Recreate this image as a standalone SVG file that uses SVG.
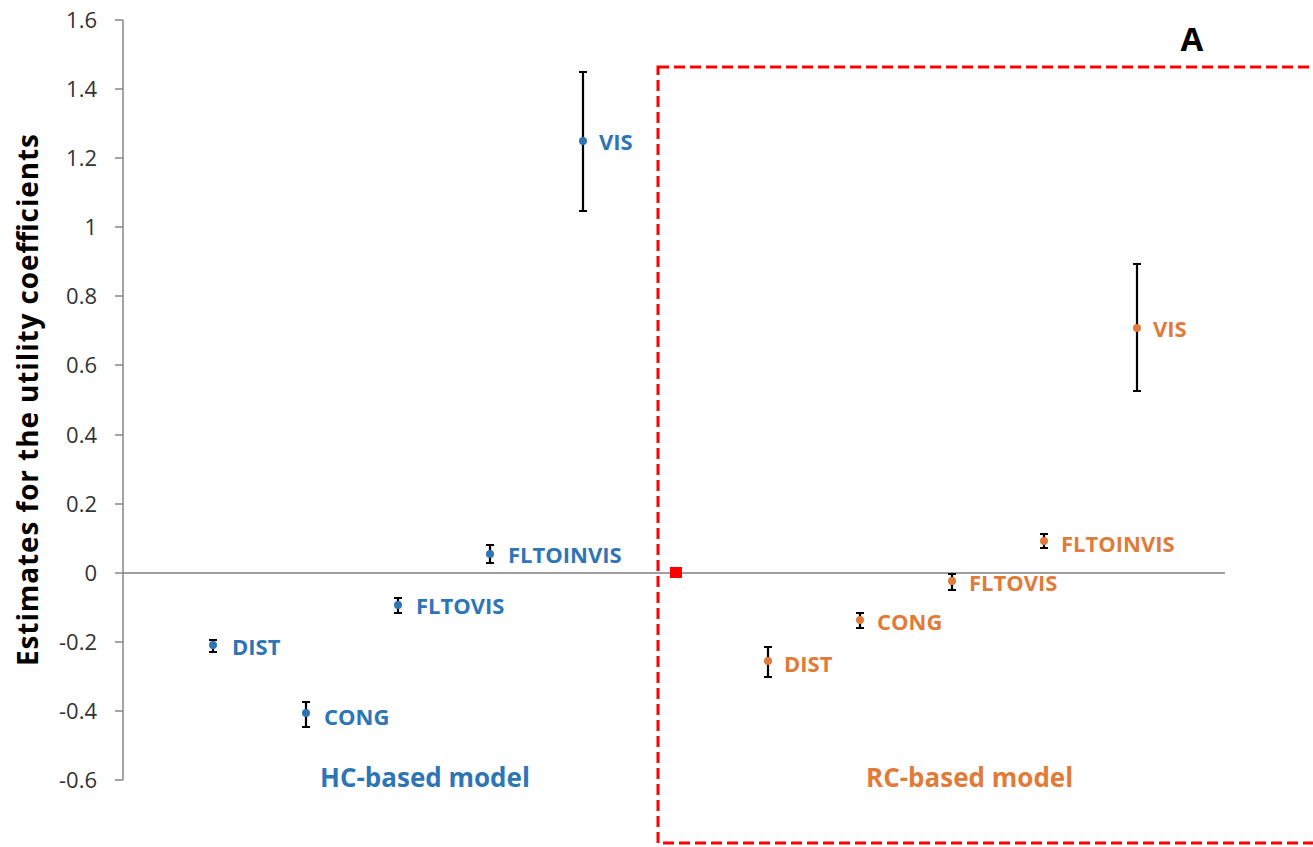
<svg xmlns="http://www.w3.org/2000/svg" width="1313" height="847" viewBox="0 0 1313 847">
<style>
.tick{font-family:"Open Sans","Liberation Sans",sans-serif;font-size:22px;fill:#333;text-anchor:end}
.lbl{font-family:"Open Sans","Liberation Sans",sans-serif;font-size:22px;font-weight:bold}
.model{font-family:"Open Sans","Liberation Sans",sans-serif;font-size:26px;font-weight:bold}
.hc{fill:#2E75B6}
.rc{fill:#E07B39}
.eb{stroke:#000;stroke-width:2.2;fill:none}
.axis{stroke:#868686;stroke-width:1.5;fill:none}
</style>
<rect width="1313" height="847" fill="#fff"/>
<g id="axis">
<path class="axis" d="M123 20V780M115 20H123M115 89H123M115 158H123M115 227H123M115 296H123M115 365H123M115 435H123M115 504H123M115 573H123M115 642H123M115 711H123M115 780H123"/>
<line x1="123" y1="573" x2="1225" y2="573" stroke="#7f7f7f" stroke-width="1.3"/>
<text class="tick" x="97" y="28">1.6</text>
<text class="tick" x="97" y="97">1.4</text>
<text class="tick" x="97" y="166">1.2</text>
<text class="tick" x="97" y="235">1</text>
<text class="tick" x="97" y="304">0.8</text>
<text class="tick" x="97" y="373">0.6</text>
<text class="tick" x="97" y="443">0.4</text>
<text class="tick" x="97" y="512">0.2</text>
<text class="tick" x="97" y="581">0</text>
<text class="tick" x="97" y="650">-0.2</text>
<text class="tick" x="97" y="719">-0.4</text>
<text class="tick" x="97" y="788">-0.6</text>
<text transform="translate(38,400) rotate(-90)" text-anchor="middle" font-family="Open Sans, Liberation Sans, sans-serif" font-size="28" font-weight="bold" fill="#000" textLength="532" lengthAdjust="spacing">Estimates for the utility coefficients</text>
</g>
<g id="box">
<rect x="658" y="67" width="700" height="776" fill="none" stroke="#FF0000" stroke-width="3" stroke-dasharray="11,5"/>
<rect x="670" y="567" width="12" height="11" fill="#FF0000"/>
<text x="1192" y="51" text-anchor="middle" font-family="Open Sans, Liberation Sans, sans-serif" font-size="33" font-weight="bold" fill="#000">A</text>
</g>
<g id="hc-points">
<path class="eb" d="M213 640V652M209 640H217M209 652H217"/>
<circle cx="213" cy="645" r="4" class="hc"/>
<text class="lbl hc" x="232" y="655">DIST</text>
<path class="eb" d="M306 702V727M302 702H310M302 727H310"/>
<circle cx="306" cy="713" r="4" class="hc"/>
<text class="lbl hc" x="324" y="725">CONG</text>
<path class="eb" d="M398 598V613M394 598H402M394 613H402"/>
<circle cx="398" cy="605" r="4" class="hc"/>
<text class="lbl hc" x="416" y="614">FLTOVIS</text>
<path class="eb" d="M490 545V563M486 545H494M486 563H494"/>
<circle cx="490" cy="554" r="4" class="hc"/>
<text class="lbl hc" x="508" y="563">FLTOINVIS</text>
<path class="eb" d="M583 72V211M579 72H587M579 211H587"/>
<circle cx="583" cy="141" r="4" class="hc"/>
<text class="lbl hc" x="599" y="150">VIS</text>
<text class="model hc" x="320" y="787">HC-based model</text>
</g>
<g id="rc-points">
<path class="eb" d="M768 647V677M764 647H772M764 677H772"/>
<circle cx="768" cy="661" r="4" class="rc"/>
<text class="lbl rc" x="784" y="672">DIST</text>
<path class="eb" d="M860 613V628M856 613H864M856 628H864"/>
<circle cx="860" cy="620" r="4" class="rc"/>
<text class="lbl rc" x="877" y="630">CONG</text>
<path class="eb" d="M952 574V590M948 574H956M948 590H956"/>
<circle cx="952" cy="581" r="4" class="rc"/>
<text class="lbl rc" x="969" y="591">FLTOVIS</text>
<path class="eb" d="M1044 534V548M1040 534H1048M1040 548H1048"/>
<circle cx="1044" cy="541" r="4" class="rc"/>
<text class="lbl rc" x="1061" y="552">FLTOINVIS</text>
<path class="eb" d="M1137 264V391M1133 264H1141M1133 391H1141"/>
<circle cx="1137" cy="328" r="4" class="rc"/>
<text class="lbl rc" x="1153" y="337">VIS</text>
<text class="model rc" x="866" y="787">RC-based model</text>
</g>
</svg>
